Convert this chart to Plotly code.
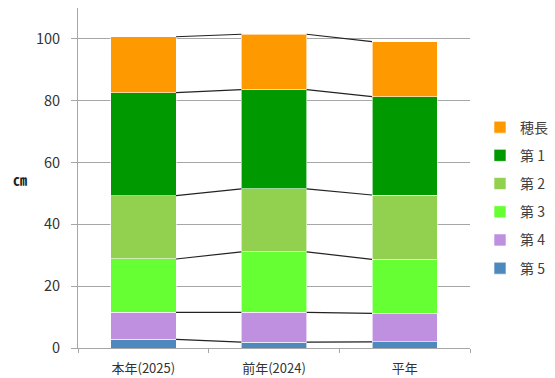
import plotly.graph_objects as go
import numpy as np

categories = ["本年(2025)", "前年(2024)", "平年"]
series_names = ["第5", "第4", "第3", "第2", "第1", "穂長"]
legend_labels = ["第 5", "第 4", "第 3", "第 2", "第 1", "穂長"]
v_5 = [2.8, 1.9, 2.0]
v_4 = [8.7, 9.6, 9.2]
v_3 = [17.3, 19.6, 17.5]
v_2 = [20.5, 20.4, 20.8]
v_1 = [33.3, 32.1, 31.8]
v_hocho = [18.1, 17.9, 17.8]
colors = ["#4E89BE", "#BF8FE0", "#66FF33", "#92D050", "#009900", "#FF9900"]
y_ticks = [0, 20, 40, 60, 80, 100]

values = [v_5, v_4, v_3, v_2, v_1, v_hocho]
xpos = np.arange(len(categories))
bar_w = 0.5

W, H = 555, 378
ML, MR, MT, MB = 78, 5, 8, 30
plot_right = 470
pw = W - ML - MR
dom_r = (plot_right - ML) / pw

FONT = "Noto Sans CJK JP"
fig = go.Figure()
n = len(series_names)
for k, (name, lab, vals, col) in enumerate(zip(series_names, legend_labels, values, colors)):
    fig.add_trace(go.Bar(x=xpos, y=vals, name=lab, width=bar_w,
                         marker=dict(color=col, line=dict(color="rgba(255,255,255,0.6)", width=1)),
                         legendgroup=name, legendrank=n - k))

cum = np.cumsum(np.array(values), axis=0)
for row in cum:
    for i in range(len(categories) - 1):
        fig.add_trace(go.Scatter(x=[xpos[i] + bar_w / 2, xpos[i + 1] - bar_w / 2],
                                 y=[row[i], row[i + 1]], mode="lines",
                                 line=dict(color="#222222", width=1.2),
                                 showlegend=False, hoverinfo="skip"))

fig.update_layout(
    width=W, height=H,
    margin=dict(l=ML, r=MR, t=MT, b=MB, autoexpand=False),
    barmode="stack",
    plot_bgcolor="white", paper_bgcolor="white",
    font=dict(family=FONT, size=13, color="#333333"),
    showlegend=True,
    legend=dict(x=(480 - ML) / pw, y=0.441, yanchor="middle", xanchor="left",
                traceorder="grouped", tracegroupgap=7,
                font=dict(size=14, color="#404040"), itemwidth=30),
    xaxis=dict(domain=[0, dom_r], range=[-0.5, 2.5], tickvals=list(xpos), ticktext=categories,
               ticks="", showgrid=False, showline=True, linecolor="#A6A6A6", linewidth=1,
               tickfont=dict(size=13, color="#333333"), zeroline=False,
               ticklabelstandoff=8,
               minor=dict(tickvals=[-0.5, 0.5, 1.5, 2.5], ticks="outside", ticklen=4,
                          tickcolor="#A6A6A6", showgrid=False)),
    yaxis=dict(range=[0, 110], tickvals=y_ticks, showgrid=True, gridcolor="#A6A6A6",
               gridwidth=1, showline=True, linecolor="#A6A6A6", linewidth=1,
               ticks="outside", ticklen=6, tickcolor="#A6A6A6", zeroline=False,
               ticklabelstandoff=8,
               tickfont=dict(size=14.5, color="#333333")),
    annotations=[dict(text="<b>㎝</b>", xref="paper", yref="paper", x=(20 - ML) / pw, y=0.497,
                      xanchor="center", showarrow=False, font=dict(size=14, color="#222222"))],
)
fig.write_html("out.html")
